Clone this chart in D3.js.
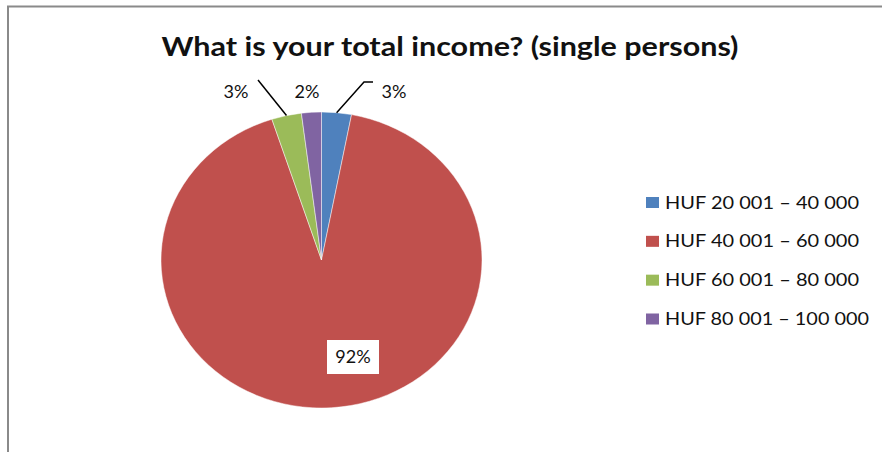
<!DOCTYPE html>
<html>
<head>
<meta charset="utf-8">
<script src="https://cdn.jsdelivr.net/npm/d3@7"></script>
<style>
  html, body { margin: 0; padding: 0; background: #fff; }
  svg { display: block; }
  text { font-family: Lato, "Open Sans", "Liberation Sans", sans-serif; fill: #111; }
</style>
</head>
<body>
<svg id="chart" width="882" height="452"></svg>
<script>
// ---- data ----
const title = "What is your total income? (single persons)";
const categories = ["HUF 20 001 – 40 000", "HUF 40 001 – 60 000", "HUF 60 001 – 80 000", "HUF 80 001 – 100 000"];
const values = [3, 92, 3, 2];
const colors = ["#4F81BD", "#C0504D", "#9BBB59", "#8064A2"];

// ---- layout ----
const W = 882, H = 452;
const cx = 321.5, cy = 260, rx = 160.5, ry = 148;
const svg = d3.select("#chart");

// outer frame (left and top edges visible)
svg.append("line").attr("x1", 8).attr("y1", 6).attr("x2", 8).attr("y2", H)
  .attr("stroke", "#8a8a8a").attr("stroke-width", 2);
svg.append("line").attr("x1", 7).attr("y1", 6.5).attr("x2", W).attr("y2", 6.5)
  .attr("stroke", "#8a8a8a").attr("stroke-width", 2);

// title
const t = svg.append("text").attr("x", 450).attr("y", 56)
  .attr("text-anchor", "middle").attr("font-weight", "bold").attr("font-size", 26)
  .attr("textLength", 577).attr("lengthAdjust", "spacingAndGlyphs")
  .text(title);

// pie
const pie = d3.pie().sort(null).value(d => d);
const arcs = pie(values);
const arc = d3.arc().innerRadius(0).outerRadius(rx);
const g = svg.append("g").attr("transform", `translate(${cx},${cy}) scale(1,${ry / rx})`);
g.selectAll("path").data(arcs).join("path")
  .attr("d", arc)
  .attr("fill", (d, i) => colors[i])
  .attr("stroke", "#ffffff").attr("stroke-opacity", 0.6)
  .attr("stroke-width", 0.8).attr("vector-effect", "non-scaling-stroke");

// helper: point on the ellipse edge at the slice mid-angle
function edgePoint(d) {
  const a = (d.startAngle + d.endAngle) / 2;
  return [cx + rx * Math.sin(a), cy - ry * Math.cos(a)];
}

const fmt = v => Math.round(v / d3.sum(values) * 100) + "%";

// data labels (layout positions)
const labelLayout = [
  { x: 394, y: 92, leader: [[364, 82], [373, 82]] },
  { x: 353, y: 357, box: true },
  { x: 236, y: 92, leader: [[258, 80]] },
  { x: 307, y: 92 }
];

arcs.forEach((d, i) => {
  const L = labelLayout[i];
  if (L.leader) {
    const pts = [edgePoint(d)].concat(L.leader);
    svg.append("path").attr("d", d3.line()(pts))
      .attr("fill", "none").attr("stroke", "#000").attr("stroke-width", 1.5);
  }
  if (L.box) {
    svg.append("rect").attr("x", L.x - 26).attr("y", L.y - 17)
      .attr("width", 52).attr("height", 34).attr("fill", "#fff");
  }
  svg.append("text").attr("x", L.x).attr("y", L.y).attr("dy", "0.36em")
    .attr("text-anchor", "middle").attr("font-size", 18)
    .text(fmt(values[i]));
});

// legend
const legendY = d3.scalePoint().domain(categories).range([202.5, 319]);
const lg = svg.append("g");
const legendWidths = [194, 194, 194, 204];
categories.forEach((c, i) => {
  const y = legendY(c);
  lg.append("rect").attr("x", 646).attr("y", y - 5.5).attr("width", 13).attr("height", 11)
    .attr("fill", colors[i]);
  lg.append("text").attr("x", 665).attr("y", y).attr("dy", "0.36em")
    .attr("font-size", 17)
    .attr("textLength", legendWidths[i]).attr("lengthAdjust", "spacingAndGlyphs")
    .text(c);
});
</script>
</body>
</html>
